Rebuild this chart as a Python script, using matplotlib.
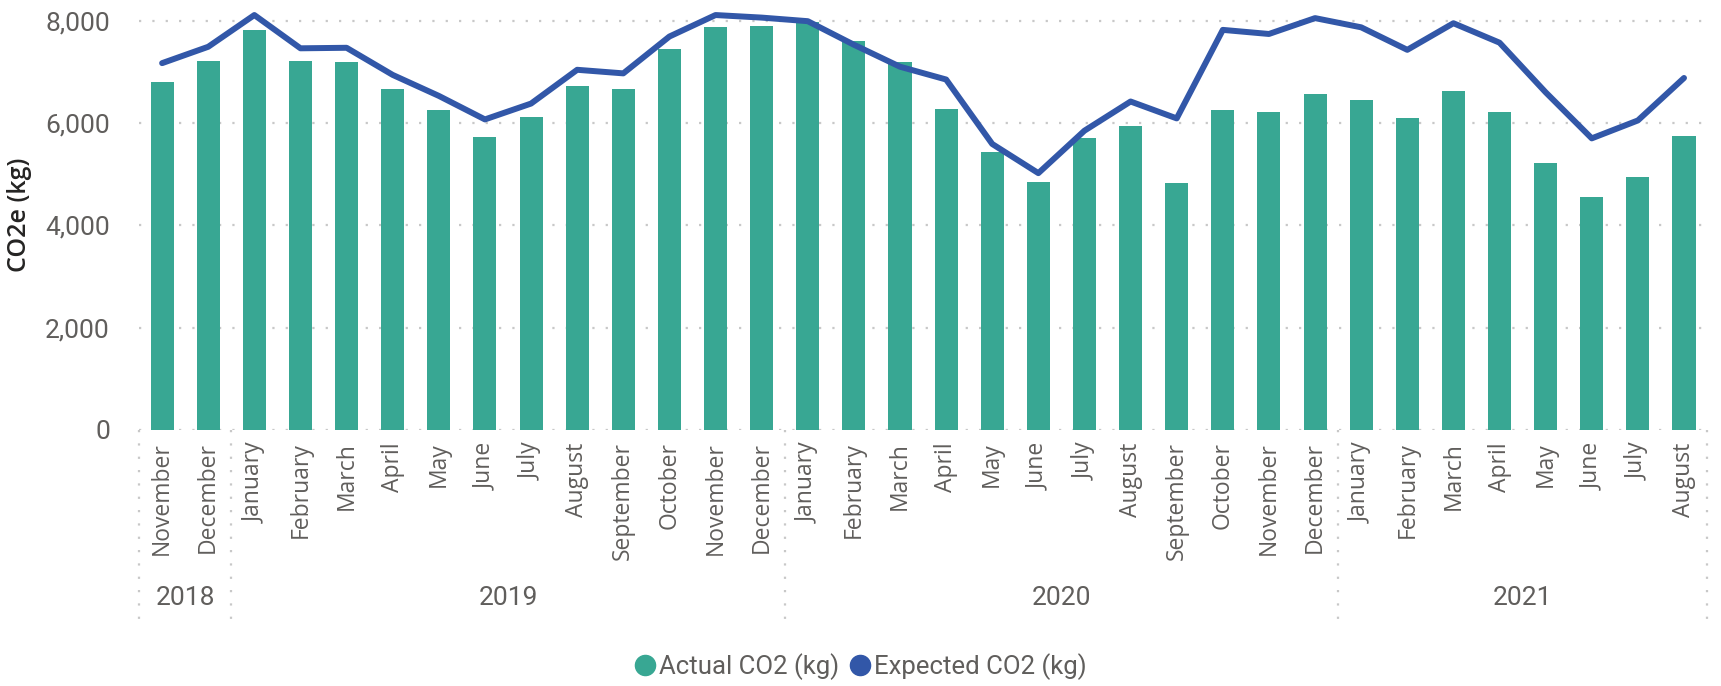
import matplotlib.pyplot as plt
from matplotlib.lines import Line2D

months = ['November', 'December',
          'January', 'February', 'March', 'April', 'May', 'June', 'July',
          'August', 'September', 'October', 'November', 'December',
          'January', 'February', 'March', 'April', 'May', 'June', 'July',
          'August', 'September', 'October', 'November', 'December',
          'January', 'February', 'March', 'April', 'May', 'June', 'July',
          'August']
actual = [6800, 7210,
          7820, 7210, 7190, 6660, 6250, 5730, 6120, 6720, 6660, 7450, 7880, 7900,
          7970, 7600, 7190, 6270, 5430, 4850, 5710, 5940, 4830, 6250, 6220, 6570,
          6450, 6100, 6620, 6220, 5220, 4550, 4950, 5750]
expected = [7170, 7490,
            8110, 7460, 7470, 6940, 6530, 6070, 6380, 7040, 6970, 7690, 8110, 8060,
            7990, 7530, 7100, 6850, 5590, 5020, 5850, 6420, 6090, 7820, 7740, 8050,
            7870, 7430, 7950, 7570, 6600, 5700, 6050, 6880]
years = ['2018', '2019', '2020', '2021']
year_counts = [2, 12, 12, 8]
yticks = [0, 2000, 4000, 6000, 8000]

teal = '#38a793'
blue = '#3257a8'
grey = '#605e5c'
narrow = ['Liberation Sans Narrow', 'Roboto', 'DejaVu Sans']

fig = plt.figure(figsize=(17.21, 6.86), dpi=100)
fig.patch.set_facecolor('white')
ax = fig.add_axes([0.0808, 0.3732, 0.9111, 0.6265])

x = list(range(len(months)))
ax.bar(x, actual, width=0.5, color=teal, zorder=2)
ax.plot(x, expected, color=blue, lw=4.3, solid_joinstyle='round',
        solid_capstyle='round', zorder=3)

ax.set_xlim(-0.5, len(months) - 0.5)
ax.set_ylim(0, 8400)
ax.set_yticks(yticks)
ax.set_yticklabels(['{:,}'.format(v) for v in yticks], family=narrow,
                   fontsize=19, color=grey)
ax.grid(axis='y', color='#c8c8c8', linestyle=(0, (1, 5)), lw=1.6, zorder=0)
for s in ax.spines.values():
    s.set_visible(False)
ax.tick_params(axis='y', length=0, pad=21)
ax.tick_params(axis='x', length=0, pad=9)

ax.set_xticks(x)
ax.set_xticklabels(months, rotation=90, family='Open Sans', fontsize=16.5,
                   color=grey)

ax.set_ylabel('CO2e (kg)', family='Open Sans', fontweight='semibold',
              fontsize=18, color='#252423')
ax.yaxis.set_label_coords(-0.068, 0.5)

# year groups under the month labels
trans = ax.get_xaxis_transform()
start = -0.5
bounds = [start]
for name, n in zip(years, year_counts):
    ax.text(start + n / 2, -0.391, name, transform=trans, ha='center',
            va='center', family=narrow, fontsize=19, color=grey)
    start += n
    bounds.append(start)
for b in bounds:
    ax.plot([b, b], [0, -0.442], transform=trans, clip_on=False,
            color='#c8c8c8', linestyle=(0, (1, 5)), lw=1.6)

handles = [Line2D([], [], marker='o', linestyle='none', markersize=14.5,
                  color=teal),
           Line2D([], [], marker='o', linestyle='none', markersize=14.5,
                  color=blue)]
leg = fig.legend(handles, ['Actual CO2 (kg)', 'Expected CO2 (kg)'], ncol=2,
                 loc='center', bbox_to_anchor=(0.5, 0.028), frameon=False,
                 handlelength=0.8, handletextpad=0.15, columnspacing=0.4,
                 prop={'family': narrow, 'size': 18.5})
for t in leg.get_texts():
    t.set_color(grey)

fig.savefig('out.png', dpi=100)
